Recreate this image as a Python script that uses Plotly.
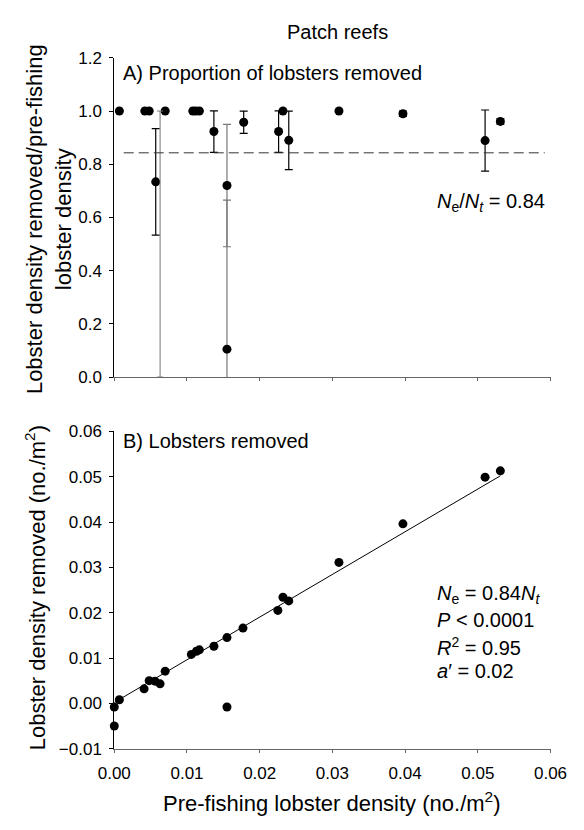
import plotly.graph_objects as go

W, H = 584, 830

# ---------------- data: panel A (proportion removed) ----------------
# points with black error bars (zero error -> no visible bar)
a_x = [0.0007, 0.0042, 0.0048, 0.0070, 0.0108, 0.0112, 0.0117, 0.0232, 0.0309,
       0.0057, 0.0137, 0.0178, 0.0226, 0.0240, 0.0397, 0.0510, 0.0531]
a_y = [1.0, 1.0, 1.0, 1.0, 1.0, 1.0, 1.0, 1.0, 1.0,
       0.734, 0.923, 0.958, 0.923, 0.890, 0.990, 0.889, 0.961]
a_err = [0, 0, 0, 0, 0, 0, 0, 0, 0,
         0.200, 0.078, 0.042, 0.078, 0.110, 0.010, 0.115, 0.010]

# points with grey error bars
g_x = [0.0155, 0.0155]
g_y = [0.720, 0.105]
g_err = [0.230, 0.560]

# error bar whose mean marker is not visible
h_x = [0.0063]
h_y = [0.50]
h_err = [0.50]

# overall ratio Ne/Nt (dashed line)
ratio_x = [0.0013, 0.0592]
ratio_y = [0.843, 0.843]

# ---------------- data: panel B (density removed) ----------------
b_x = [0.0, 0.0, 0.0007, 0.0041, 0.0048, 0.0056, 0.0063, 0.0070, 0.0106, 0.0113,
       0.0117, 0.0137, 0.0155, 0.0155, 0.0177, 0.0225, 0.0232, 0.0240, 0.0309,
       0.0397, 0.0510, 0.0531]
b_y = [-0.0008, -0.0050, 0.0008, 0.0032, 0.0050, 0.0049, 0.0043, 0.0071, 0.0108, 0.0115,
       0.0118, 0.0126, 0.0145, -0.0008, 0.0166, 0.0205, 0.0234, 0.0226, 0.0311,
       0.0396, 0.0499, 0.0513]

fit_x = [0.0, 0.0531]
fit_y = [0.0002, 0.0502]

x_ticks = [0.0, 0.01, 0.02, 0.03, 0.04, 0.05, 0.06]
a_yticks = [0.0, 0.2, 0.4, 0.6, 0.8, 1.0, 1.2]
b_yticks = [-0.01, 0.0, 0.01, 0.02, 0.03, 0.04, 0.05, 0.06]

FONT = "Liberation Sans, Arial, Helvetica, sans-serif"


def px(x):
    return x / W


def py(y):
    return 1 - y / H


fig = go.Figure()

fig.add_trace(go.Scatter(
    x=a_x, y=a_y, mode="markers", xaxis="x", yaxis="y",
    marker=dict(color="black", size=9),
    error_y=dict(type="data", array=a_err, symmetric=True, color="black",
                 thickness=1.2, width=4),
    showlegend=False))
fig.add_trace(go.Scatter(
    x=g_x, y=g_y, mode="markers", xaxis="x", yaxis="y",
    marker=dict(color="black", size=9),
    error_y=dict(type="data", array=g_err, symmetric=True, color="#777777",
                 thickness=1.2, width=4),
    showlegend=False))
fig.add_trace(go.Scatter(
    x=h_x, y=h_y, mode="markers", xaxis="x", yaxis="y",
    marker=dict(color="rgba(0,0,0,0)", size=1),
    error_y=dict(type="data", array=h_err, symmetric=True, color="#777777",
                 thickness=1, width=3),
    showlegend=False))
fig.add_trace(go.Scatter(
    x=ratio_x, y=ratio_y, mode="lines", xaxis="x", yaxis="y",
    line=dict(color="#333333", width=1, dash="10px,5px"),
    showlegend=False))

fig.add_trace(go.Scatter(
    x=fit_x, y=fit_y, mode="lines", xaxis="x2", yaxis="y2",
    line=dict(color="black", width=1), showlegend=False))
fig.add_trace(go.Scatter(
    x=b_x, y=b_y, mode="markers", xaxis="x2", yaxis="y2",
    marker=dict(color="black", size=9), cliponaxis=False,
    showlegend=False))

xd = [px(103.3), px(566.5)]
axis_common = dict(showgrid=False, zeroline=False, ticks="outside",
                   tickfont=dict(family=FONT, size=17, color="black"),
                   showline=True, mirror=False)

fig.update_layout(
    width=W, height=H, margin=dict(l=0, r=0, t=0, b=0),
    paper_bgcolor="white", plot_bgcolor="white",
    xaxis=dict(domain=xd, range=[0, 0.06], tickvals=x_ticks, showticklabels=False,
               anchor="y", linecolor="#666666", linewidth=1, ticklen=3,
               tickcolor="#666666", **axis_common),
    yaxis=dict(domain=[py(376.7), py(50)], range=[0, 1.2], tickvals=a_yticks,
               tickformat=".1f", anchor="x", linecolor="black", linewidth=1,
               ticklen=4, tickcolor="black", ticklabelstandoff=4, **axis_common),
    xaxis2=dict(domain=xd, range=[0, 0.06], tickvals=x_ticks, tickformat=".2f",
                anchor="y2", linecolor="#666666", linewidth=1, ticklen=3,
                tickcolor="#666666", ticklabelstandoff=6, **axis_common),
    yaxis2=dict(domain=[py(757), py(432.3)], range=[-0.01, 0.06], tickvals=b_yticks,
                tickformat=".2f", anchor="x2", linecolor="black", linewidth=1,
                ticklen=4, tickcolor="black", ticklabelstandoff=4, **axis_common),
)

ann = []


def add(text, x, y, size, xanchor="center", yanchor="middle", angle=0):
    ann.append(dict(text=text, x=px(x), y=py(y), xref="paper", yref="paper",
                    xanchor=xanchor, yanchor=yanchor, showarrow=False,
                    textangle=angle, font=dict(family=FONT, size=size, color="black")))


add("Patch reefs", 340, 24, 20)
add("A) Proportion of lobsters removed", 110, 65, 20, xanchor="left")
add("<i>N</i><sub>e</sub>/<i>N</i><sub><i>t</i></sub> = 0.84", 444, 198, 20, xanchor="left")
add("B) Lobsters removed", 110, 442, 20, xanchor="left")
add("<i>N</i><sub>e</sub> = 0.84<i>N</i><sub><i>t</i></sub>", 444, 599, 20, xanchor="left")
add("<i>P</i> &lt; 0.0001", 444, 625, 20, xanchor="left")
add("<i>R</i><sup>2</sup> = 0.95", 444, 652, 20, xanchor="left")
add("<i>a</i>′ = 0.02", 444, 678, 20, xanchor="left")
add("Lobster density removed/pre-fishing<br>lobster density", 34, 215, 22, angle=-90)
add("Lobster density removed (no./m<sup>2</sup>)", 20, 592, 22, angle=-90)
add("Pre-fishing lobster density (no./m<sup>2</sup>)", 334, 812, 22)

fig.update_layout(annotations=ann)

fig.write_html(
    "out.html",
    post_script="document.body.style.margin='0';document.body.style.padding='0';",
)
